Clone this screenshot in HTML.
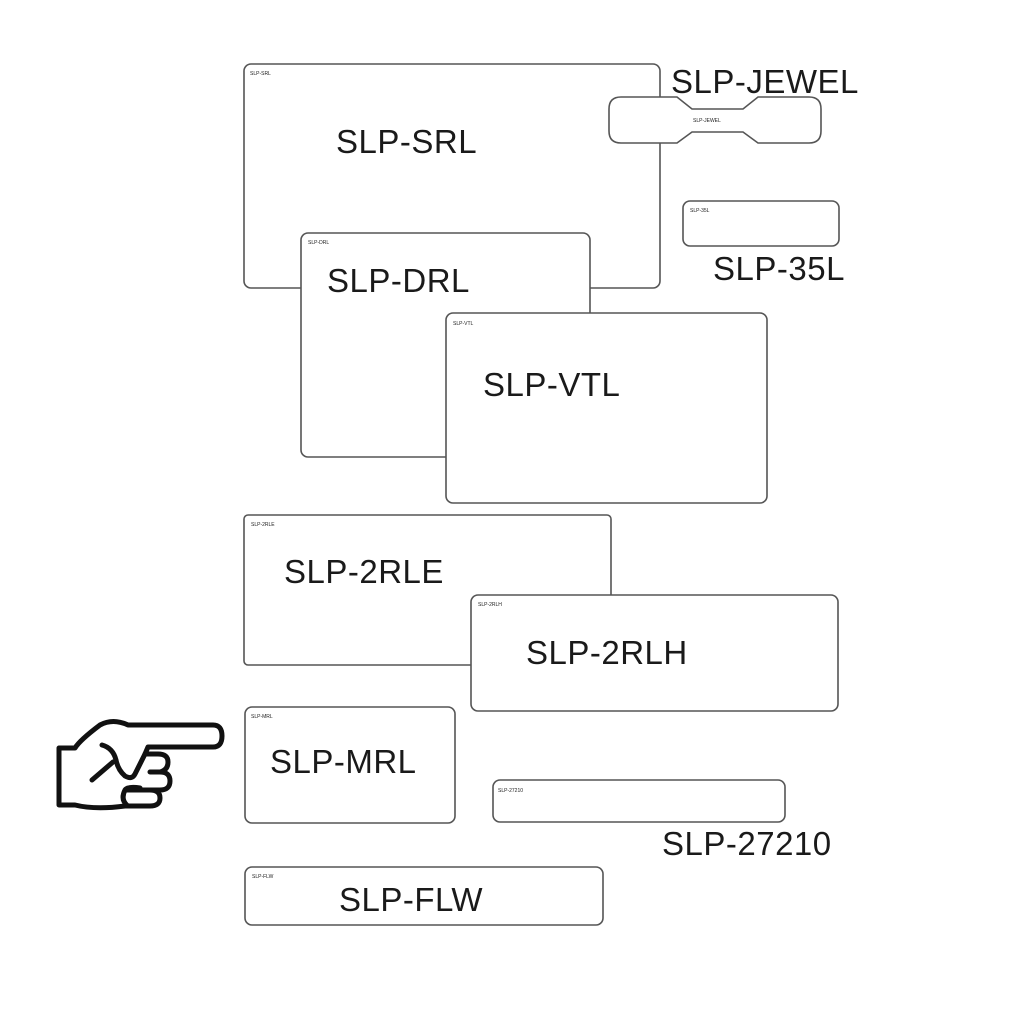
<!DOCTYPE html>
<html><head><style>html,body{margin:0;padding:0;background:#fff}</style></head>
<body>
<svg width="1024" height="1024" viewBox="0 0 1024 1024" xmlns="http://www.w3.org/2000/svg">
<rect width="1024" height="1024" fill="#fff"/>
<g fill="#fff" stroke="#555" stroke-width="1.6">
<rect x="244" y="64" width="416" height="224" rx="7"/>
<rect x="301" y="233" width="289" height="224" rx="7"/>
<rect x="446" y="313" width="321" height="190" rx="7"/>
<rect x="244" y="515" width="367" height="150" rx="4"/>
<rect x="471" y="595" width="367" height="116" rx="7"/>
<rect x="245" y="707" width="210" height="116" rx="7"/>
<rect x="493" y="780" width="292" height="42" rx="7"/>
<rect x="245" y="867" width="358" height="58" rx="7"/>
<rect x="683" y="201" width="156" height="45" rx="7"/>
<path d="M621 97 H677 L692 109 H743 L758 97 H809 Q821 97 821 109 V131 Q821 143 809 143 H758 L743 132 H692 L677 143 H621 Q609 143 609 131 V109 Q609 97 621 97 Z"/>
</g>
<g font-family="Liberation Sans, sans-serif" fill="#222" font-size="5">
<text x="250" y="75">SLP-SRL</text>
<text x="308" y="244">SLP-DRL</text>
<text x="453" y="325">SLP-VTL</text>
<text x="251" y="526">SLP-2RLE</text>
<text x="478" y="606">SLP-2RLH</text>
<text x="251" y="718">SLP-MRL</text>
<text x="498" y="792">SLP-27210</text>
<text x="252" y="878">SLP-FLW</text>
<text x="690" y="212">SLP-35L</text>
<text x="693" y="122">SLP-JEWEL</text>
</g>
<g font-family="Liberation Sans, sans-serif" fill="#1a1a1a" font-size="33" letter-spacing="0.5">
<text x="336" y="153">SLP-SRL</text>
<text x="327" y="292">SLP-DRL</text>
<text x="483" y="396">SLP-VTL</text>
<text x="284" y="583">SLP-2RLE</text>
<text x="526" y="664">SLP-2RLH</text>
<text x="270" y="773">SLP-MRL</text>
<text x="339" y="911">SLP-FLW</text>
<text x="671" y="93">SLP-JEWEL</text>
<text x="713" y="280">SLP-35L</text>
<text x="662" y="855">SLP-27210</text>
</g>
<g fill="none" stroke="#111" stroke-width="5" stroke-linecap="round" stroke-linejoin="round">
<path d="M59 748 V805 H75 Q95 810 125 806 H150 Q160 806 160 798 Q160 790 150 790 M150 790 H160 Q170 790 170 781 Q170 772 160 772 H150 M160 772 Q168 770 168 762 Q168 754 158 754 H145 L148 747 H213 Q222 747 222 736 Q222 725 213 725 H128 Q113 718 100 725 Q80 740 75 748 H59"/>
<path d="M102 745 Q113 748 116 760 Q118 770 125 776 Q132 780 135 774 L145 754"/>
<path d="M113 762 L92 780"/>
<path d="M125 790 H150 M128 806 Q120 800 125 790 Q128 786 140 788"/>
</g>
</svg>
</body></html>
